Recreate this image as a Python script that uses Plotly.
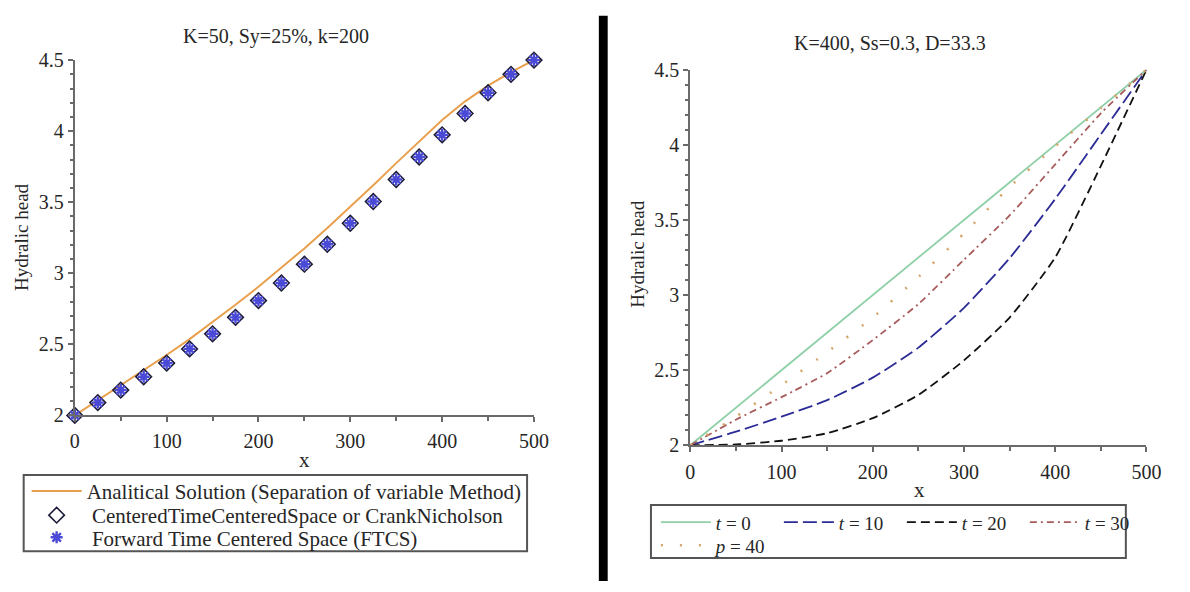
import plotly.graph_objects as go

W, H = 1190, 592

# ---- left panel: K=50, Sy=25%, k=200 ----
x_nodes = [0, 25, 50, 75, 100, 125, 150, 175, 200, 225, 250,
           275, 300, 325, 350, 375, 400, 425, 450, 475, 500]
analytic_head = [2.0, 2.105, 2.21, 2.315, 2.425, 2.537, 2.655, 2.778, 2.905, 3.037, 3.175,
                 3.318, 3.467, 3.62, 3.775, 3.93, 4.078, 4.21, 4.32, 4.415, 4.5]
ctcs_head = [2.0, 2.09, 2.178, 2.272, 2.368, 2.468, 2.574, 2.69, 2.808, 2.932, 3.064,
             3.204, 3.352, 3.505, 3.66, 3.818, 3.974, 4.124, 4.27, 4.40, 4.5]
ftcs_head = [2.0, 2.09, 2.178, 2.272, 2.368, 2.468, 2.574, 2.69, 2.808, 2.932, 3.064,
             3.204, 3.352, 3.505, 3.66, 3.818, 3.974, 4.124, 4.27, 4.40, 4.5]

# ---- right panel: K=400, Ss=0.3, D=33.3 ----
x_profile = [0, 50, 100, 150, 200, 250, 300, 350, 400, 450, 500]
h_t0 = [2.0, 2.25, 2.5, 2.75, 3.0, 3.25, 3.5, 3.75, 4.0, 4.25, 4.5]
h_t10 = [2.0, 2.09, 2.19, 2.30, 2.45, 2.65, 2.915, 3.245, 3.64, 4.07, 4.5]
h_t20 = [2.0, 2.005, 2.03, 2.08, 2.18, 2.335, 2.565, 2.85, 3.25, 3.86, 4.5]
h_t30 = [2.0, 2.17, 2.32, 2.48, 2.70, 2.94, 3.235, 3.53, 3.87, 4.21, 4.5]
h_p40 = [2.0, 2.19, 2.40, 2.62, 2.85, 3.12, 3.41, 3.72, 3.99, 4.245, 4.5]

x_ticks = [0, 100, 200, 300, 400, 500]
y_ticks = [2, 2.5, 3, 3.5, 4, 4.5]
y_tick_text = ["2", "2.5", "3", "3.5", "4", "4.5"]

SERIF = "Liberation Serif"
AXIS_GRAY = "#6a6a6a"
TEXT = "#262626"


def px(v):
    return v / W


def py(v):
    return 1 - v / H


fig = go.Figure()

# left panel traces (each legend row has its own legend box so the rows sit tight)
fig.add_trace(go.Scatter(
    x=x_nodes, y=analytic_head, mode="lines",
    line=dict(color="#e8a04e", width=2),
    name="Analitical Solution (Separation of variable Method)",
    xaxis="x", yaxis="y", legend="legend"))
fig.add_trace(go.Scatter(
    x=x_nodes, y=ctcs_head, mode="markers",
    marker=dict(symbol="diamond-open", size=12, color="#1c1c3a", line=dict(width=1.6)),
    name=" CenteredTimeCenteredSpace or CrankNicholson",
    xaxis="x", yaxis="y", legend="legend4", cliponaxis=False))
fig.add_trace(go.Scatter(
    x=x_nodes, y=ftcs_head, mode="markers",
    marker=dict(symbol="asterisk-open", size=10, color="#4a4ad6", line=dict(width=2.4, color="#4a4ad6")),
    name=" Forward Time Centered Space (FTCS)",
    xaxis="x", yaxis="y", legend="legend5", cliponaxis=False))

# right panel traces
fig.add_trace(go.Scatter(
    x=x_profile, y=h_t0, mode="lines",
    line=dict(color="#8fd0a8", width=1.8),
    name="<i>t</i> = 0", xaxis="x2", yaxis="y2", legend="legend2"))
fig.add_trace(go.Scatter(
    x=x_profile, y=h_t10, mode="lines",
    line=dict(color="#2c2c96", width=1.8, dash="14px,5px", shape="spline", smoothing=0.5),
    name="<i>t</i> = 10", xaxis="x2", yaxis="y2", legend="legend2"))
fig.add_trace(go.Scatter(
    x=x_profile, y=h_t20, mode="lines",
    line=dict(color="#111111", width=1.8, dash="9px,5px", shape="spline", smoothing=0.5),
    name="<i>t</i> = 20", xaxis="x2", yaxis="y2", legend="legend2"))
fig.add_trace(go.Scatter(
    x=x_profile, y=h_t30, mode="lines",
    line=dict(color="#a85c5c", width=1.8, dash="7px,4px,2px,4px", shape="spline", smoothing=0.5),
    name="<i>t</i> = 30", xaxis="x2", yaxis="y2", legend="legend2"))
fig.add_trace(go.Scatter(
    x=x_profile, y=h_p40, mode="lines",
    line=dict(color="#d4a56a", width=2.6, dash="2px,17px", shape="spline", smoothing=0.5),
    name="<i>p</i> = 40", xaxis="x2", yaxis="y2", legend="legend3"))


def axis_common(**kw):
    base = dict(
        showgrid=False, zeroline=False, showline=True, linecolor=AXIS_GRAY, linewidth=2,
        ticks="outside", ticklen=5, tickwidth=1.5, tickcolor=AXIS_GRAY,
        tickfont=dict(family=SERIF, size=20, color=TEXT),
        fixedrange=True,
    )
    base.update(kw)
    return base


def legend_row(x, y_mid, size=21, **kw):
    d = dict(x=px(x), y=py(y_mid), xanchor="left", yanchor="middle",
             bgcolor="rgba(0,0,0,0)", borderwidth=0, itemwidth=50,
             font=dict(family=SERIF, size=size, color=TEXT))
    d.update(kw)
    return d


fig.update_layout(
    width=W, height=H,
    margin=dict(l=0, r=0, t=0, b=0),
    paper_bgcolor="white", plot_bgcolor="white",
    font=dict(family=SERIF, color=TEXT),
    xaxis=axis_common(domain=[px(71), px(538)], range=[0, 500], anchor="y",
                      tickvals=x_ticks, ticklabelstandoff=2,
                      minor=dict(dtick=50, ticks="outside", ticklen=4, tickcolor=AXIS_GRAY)),
    yaxis=axis_common(domain=[py(420), py(51)], range=[2, 4.5], anchor="x",
                      tickvals=y_ticks, ticktext=y_tick_text,
                      minor=dict(dtick=0.1, ticks="outside", ticklen=3, tickcolor=AXIS_GRAY)),
    xaxis2=axis_common(domain=[px(697), px(1161)], range=[0, 500], anchor="y2",
                       tickvals=x_ticks, ticklabelstandoff=3,
                       minor=dict(dtick=50, ticks="outside", ticklen=4, tickcolor=AXIS_GRAY)),
    yaxis2=axis_common(domain=[py(451), py(61)], range=[2, 4.5], anchor="x2",
                       tickvals=y_ticks, ticktext=y_tick_text,
                       minor=dict(dtick=0.1, ticks="outside", ticklen=3, tickcolor=AXIS_GRAY)),
    legend=legend_row(22, 499),
    legend4=legend_row(22, 524),
    legend5=legend_row(22, 547),
    legend2=legend_row(662, 531, size=19, orientation="h", entrywidth=58),
    legend3=legend_row(662, 555, size=19, orientation="h"),
    showlegend=True,
)

# legend frames and the dividing bar between the panels
fig.add_shape(type="rect", xref="paper", yref="paper",
              x0=px(19), x1=px(531), y0=py(561), y1=py(482),
              line=dict(color="#555555", width=2), fillcolor="rgba(0,0,0,0)")
fig.add_shape(type="rect", xref="paper", yref="paper",
              x0=px(657), x1=px(1140), y0=py(568), y1=py(513),
              line=dict(color="#555555", width=2), fillcolor="rgba(0,0,0,0)")
fig.add_shape(type="rect", xref="paper", yref="paper",
              x0=px(604), x1=px(613), y0=0, y1=py(5),
              line=dict(width=0), fillcolor="black")

annotations = [
    dict(text="K=50, Sy=25%, k=200", x=px(276), y=py(26), font=dict(size=20)),
    dict(text="K=400, Ss=0.3, D=33.3", x=px(900), y=py(33), font=dict(size=20)),
    dict(text="x", x=px(305), y=py(466), font=dict(size=21)),
    dict(text="x", x=px(930), y=py(497), font=dict(size=21)),
    dict(text="Hydralic head", x=px(17), y=py(235), textangle=-90, font=dict(size=19)),
    dict(text="Hydralic head", x=px(643), y=py(252), textangle=-90, font=dict(size=19)),
]
for a in annotations:
    a.update(xref="paper", yref="paper", showarrow=False, xanchor="center", yanchor="middle")
    a["font"].update(family=SERIF, color=TEXT)
    fig.add_annotation(**a)

fig.write_html("out.html")
